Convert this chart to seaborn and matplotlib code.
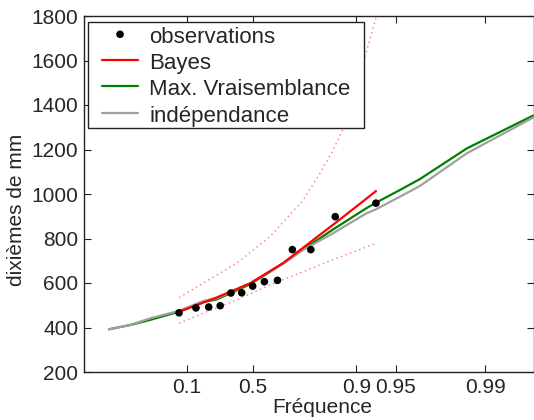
import numpy as np
import pandas as pd
import matplotlib
matplotlib.use("Agg")
import matplotlib.pyplot as plt
from matplotlib.patches import Rectangle
import seaborn as sns

# ---- data ----
obs_freq = [0.071, 0.143, 0.214, 0.286, 0.357, 0.429, 0.5, 0.571, 0.643, 0.714, 0.786, 0.857, 0.929]
obs_vals = [466, 488, 492, 498, 555, 556, 586, 606, 612, 750, 750, 898, 959]

fit_freq = [7.8e-5, 0.00157, 0.0113, 0.0707, 0.186, 0.263, 0.483, 0.672, 0.746, 0.851,
            0.916, 0.929, 0.9535, 0.9674, 0.986, 0.99577]
mv_vals = [392, 411, 434, 471, 515, 526, 594, 688, 741, 840, 936, 961, 1018, 1067, 1205, 1352]
ind_vals = [392, 411, 441, 475, 520, 531, 599, 688, 741, 823, 913, 931, 988, 1036, 1183, 1343]

bayes_freq = [0.0714, 0.263, 0.483, 0.672, 0.746, 0.858, 0.911, 0.929]
bayes_vals = [471, 535, 598, 690, 748, 871, 967, 1013]

up_freq = [0.0714, 0.182, 0.395, 0.603, 0.7585, 0.8155, 0.852, 0.8737, 0.9154, 0.929]
up_vals = [535, 599, 689, 808, 973, 1093, 1198, 1288, 1632, 1790]
lo_freq = [0.0714, 0.182, 0.395, 0.603, 0.7585, 0.860, 0.929]
lo_vals = [419, 464, 524, 591, 651, 711, 778]

xtick_vals = [0.1, 0.5, 0.9, 0.95, 0.99]
xtick_labels = ["0.1", "0.5", "0.9", "0.95", "0.99"]
ytick_vals = [200, 400, 600, 800, 1000, 1200, 1400, 1600, 1800]

# ---- style ----
sns.set_style("ticks")
plt.rcParams["font.family"] = ["Liberation Sans", "DejaVu Sans"]
plt.rcParams["xtick.direction"] = "in"
plt.rcParams["ytick.direction"] = "in"

fig = plt.figure(figsize=(5.34, 4.2), dpi=100)
ax = fig.add_axes([84 / 534, 1 - 372 / 420, (534 - 84) / 534, (372 - 16) / 420])


def fwd(p):
    p = np.clip(np.asarray(p, dtype=float), 1e-12, 1 - 1e-12)
    return -np.log(-np.log(p))


def inv(u):
    return np.exp(-np.exp(-np.asarray(u, dtype=float)))


ax.set_xscale("function", functions=(fwd, inv))

df_ind = pd.DataFrame({"f": fit_freq, "v": ind_vals})
df_mv = pd.DataFrame({"f": fit_freq, "v": mv_vals})
df_b = pd.DataFrame({"f": bayes_freq, "v": bayes_vals})
df_up = pd.DataFrame({"f": up_freq, "v": up_vals})
df_lo = pd.DataFrame({"f": lo_freq, "v": lo_vals})
df_obs = pd.DataFrame({"f": obs_freq, "v": obs_vals})

dot_color = (1.0, 0.45, 0.45)
sns.lineplot(data=df_up, x="f", y="v", ax=ax, color=dot_color, lw=1.0,
             linestyle=(0, (1, 2.5)), sort=False, zorder=2)
sns.lineplot(data=df_lo, x="f", y="v", ax=ax, color=dot_color, lw=1.0,
             linestyle=(0, (1, 2.5)), sort=False, zorder=2)
sns.lineplot(data=df_mv, x="f", y="v", ax=ax, color="#008000", lw=1.6, sort=False,
             zorder=3, label="Max. Vraisemblance")
sns.lineplot(data=df_ind, x="f", y="v", ax=ax, color="#a0a0a0", lw=1.6, sort=False,
             zorder=3.5, label="indépendance")
sns.lineplot(data=df_b, x="f", y="v", ax=ax, color="#ff0000", lw=1.6, sort=False,
             zorder=4, label="Bayes")
sns.scatterplot(data=df_obs, x="f", y="v", ax=ax, color="black", s=30,
                edgecolor="none", zorder=5, label="observations")

ax.set_xlim(3.4e-7, 0.99585)
ax.set_ylim(200, 1800)
ax.set_xticks(xtick_vals)
ax.set_xticklabels(xtick_labels)
ax.xaxis.set_minor_locator(matplotlib.ticker.NullLocator())
ax.set_yticks(ytick_vals)
ax.tick_params(axis="both", which="major", labelsize=15, length=5, width=0.8,
               top=True, right=True, color="#222222", pad=4)

for s in ax.spines.values():
    s.set_visible(True)
    s.set_linewidth(1.0)
    s.set_color("#222222")

ax.set_xlabel("Fréquence", fontsize=15, labelpad=0)
ax.set_ylabel("dixièmes de mm", fontsize=15)
ax.xaxis.set_label_coords((322.5 - 84) / 450, -0.072)
ax.yaxis.set_label_coords(-0.128, (372 - 209.5) / 356)

# legend frame drawn as a box (asymmetric padding like the original)
frame = Rectangle(((88.3 - 84) / 450, 1 - (127.7 - 16) / 356),
                  (364 - 88.3) / 450, (127.7 - 21.7) / 356,
                  transform=ax.transAxes, facecolor="white", edgecolor="#222222",
                  lw=1.0, zorder=9, clip_on=False)
ax.add_patch(frame)

handles, labels = ax.get_legend_handles_labels()
order = ["observations", "Bayes", "Max. Vraisemblance", "indépendance"]
hmap = dict(zip(labels, handles))
leg = ax.legend([hmap[k] for k in order], order, loc="upper left",
                bbox_to_anchor=((101.7 - 84) / 450, 1 - (24.0 - 16) / 356),
                borderaxespad=0, fontsize=16, frameon=False,
                handlelength=1.65, handleheight=1.15, handletextpad=0.5,
                borderpad=0, labelspacing=0.13, markerscale=1.0)
leg.set_zorder(10)

fig.savefig("out.png", dpi=100)
